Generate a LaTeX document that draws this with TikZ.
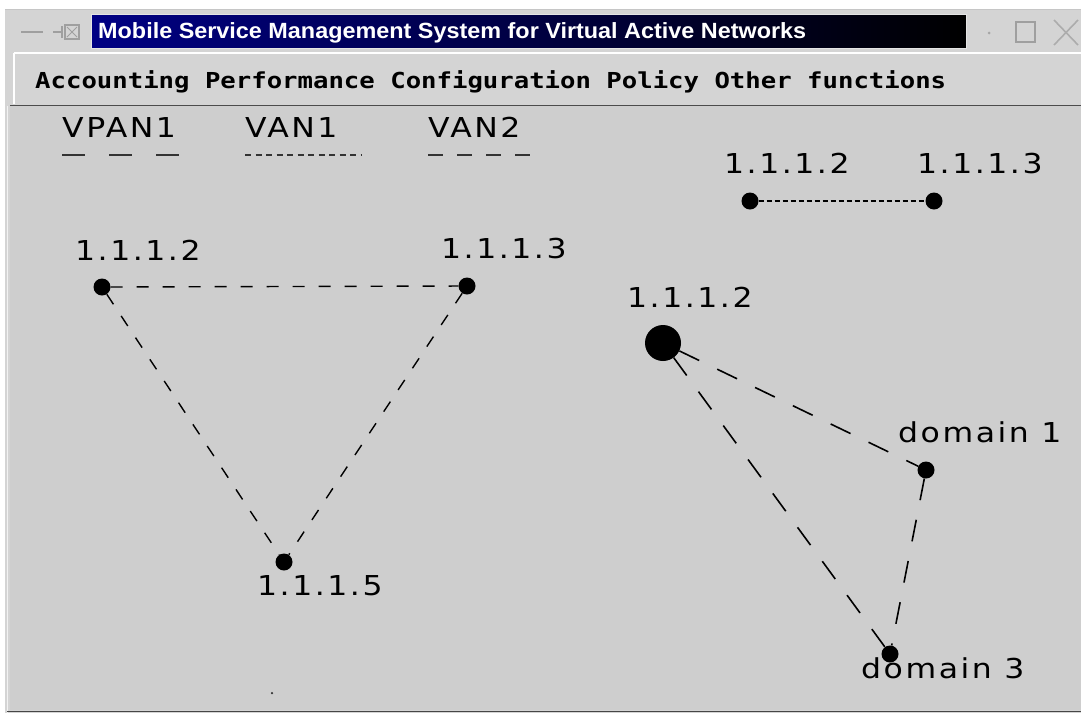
\documentclass[tikz,border=0pt]{standalone}
\usepackage{fontspec}
\usepackage{graphicx}
\newfontfamily\lblfont[LetterSpace=8]{DejaVu Sans}
\newfontfamily\menufont{DejaVu Sans Mono}
\newfontfamily\titlefont{Liberation Sans}
\newcommand\stretchlbl[1]{\scalebox{1.15}[1]{#1}}
\definecolor{winbg}{RGB}{212,212,212}
\definecolor{canvasbg}{RGB}{206,206,206}
\definecolor{navy}{RGB}{0,0,132}
\tikzset{
  dot/.style={circle, fill=black, inner sep=0pt, minimum size=17pt},
  bigdot/.style={circle, fill=black, inner sep=0pt, minimum size=36pt},
  tinydot/.style={circle, fill=black!80, inner sep=0pt, minimum size=2.5pt},
  lbl/.style={inner sep=0pt, anchor=base west, font=\lblfont\fontsize{27.4}{30}\selectfont},
  menutext/.style={inner sep=0pt, anchor=base west, font=\menufont\bfseries\fontsize{22}{24}\selectfont},
  titletext/.style={inner sep=0pt, anchor=base west, text=white, font=\titlefont\bfseries\fontsize{22}{24}\selectfont},
  vanb/.style={line width=1.4pt, dash pattern=on 12pt off 14pt},
  vana/.style={line width=1.3pt, dash pattern=on 5pt off 3pt},
  vpan/.style={line width=1.6pt, dash pattern=on 22pt off 20pt},
  legline/.style={line width=2.2pt, black!80},
  icon/.style={draw=gray!75, line width=1.6pt}
}
\begin{document}
\begin{tikzpicture}[x=1pt,y=-1pt]
\useasboundingbox (0,0) rectangle (1081,713);
\fill[white] (0,0) rectangle (1081,713);
\fill[winbg] (4,9) rectangle (1081,713);
\draw[gray!45] (4,9.5) -- (1081,9.5);
\draw[white] (4.5,9) -- (4.5,713);
% title bar
\shade[left color=navy, right color=black] (92,15) rectangle (966,48);
\draw[white!80!gray, line width=1.2pt] (91.5,14.5) rectangle (966.5,48.5);
\node[titletext] (title) at (98,38.5) {\resizebox{708pt}{\height}{Mobile Service Management System for Virtual Active Networks}};
% window icons (left)
\draw[icon] (21,32) -- (43,32);
\draw[icon] (53,32) -- (62,32);
\draw[icon] (62,26) -- (62,38);
\draw[gray!75, line width=1.2pt] (65,25) rectangle (79,39);
\draw[gray!75, line width=1pt] (67,27) -- (77,37) (77,27) -- (67,37);
% window icons (right)
\fill[gray!70] (989,33) circle (1.5pt);
\draw[gray!75, line width=1.4pt] (1016,22) rectangle (1035,42);
\draw[gray!65, line width=1.6pt] (1054,20) -- (1078,45) (1078,20) -- (1054,45);
% menu bar
\draw[white, line width=1.2pt] (14,53) -- (1081,53);
\draw[white, line width=1.2pt] (14,53) -- (14,104);
\node[menutext] (menu) at (35,88) {\resizebox{911pt}{\height}{Accounting Performance Configuration Policy Other functions}};
% canvas
\fill[canvasbg] (10,106) rectangle (1081,710);
\draw[gray!60!black, line width=1.6pt] (10,105.5) -- (1081,105.5);
\draw[white!90!gray, line width=1pt] (7,106) -- (7,713);
\draw[gray!55!black, line width=1.6pt] (7,711.5) -- (1081,711.5);
% legend
\node[lbl] (legvpan) at (62,137) {\stretchlbl{VPAN1}};
\node[lbl] (legvan1) at (245,137) {\stretchlbl{VAN1}};
\node[lbl] (legvan2) at (428,137) {\stretchlbl{VAN2}};
\coordinate (lva) at (62,155);  \coordinate (lvb) at (181,155);
\coordinate (l1a) at (245,155); \coordinate (l1b) at (361,155);
\coordinate (l2a) at (428,155); \coordinate (l2b) at (532,155);
\draw[legline, dash pattern=on 23pt off 24pt] (lva) -- (lvb);
\draw[legline, line width=1.6pt, dash pattern=on 6pt off 4.5pt] (l1a) -- (l1b);
\draw[legline, dash pattern=on 15pt off 14pt] (l2a) -- (l2b);
% nodes
\node[dot] (a2) at (102,287) {};
\node[dot] (a3) at (467,286) {};
\node[dot] (a5) at (284,562) {};
\node[dot] (b2) at (750,201) {};
\node[dot] (b3) at (934,201) {};
\node[bigdot] (c2) at (663,343) {};
\node[dot] (d1) at (926,470) {};
\node[dot] (d3) at (890,654) {};
\node[tinydot] (spk) at (272,693) {};
% labels
\node[lbl] (la2) at (75,260) {\stretchlbl{1.1.1.2}};
\node[lbl] (la3) at (441,258) {\stretchlbl{1.1.1.3}};
\node[lbl] (la5) at (257,595) {\stretchlbl{1.1.1.5}};
\node[lbl] (lb2) at (724,173) {\stretchlbl{1.1.1.2}};
\node[lbl] (lb3) at (917,173) {\stretchlbl{1.1.1.3}};
\node[lbl] (lc2) at (627,307) {\stretchlbl{1.1.1.2}};
\node[lbl] (ld1) at (898,442) {\stretchlbl{domain 1}};
\node[lbl] (ld3) at (861,678) {\stretchlbl{domain 3}};
% connectors
\draw[vanb] (a2) -- (a3);
\draw[vanb] (a2) -- (a5);
\draw[vanb] (a3) -- (a5);
\draw[vana] (b2) -- (b3);
\draw[vpan] (c2) -- (d1);
\draw[vpan] (c2) -- (d3);
\draw[vpan] (d1) -- (d3);
\end{tikzpicture}
\end{document}
